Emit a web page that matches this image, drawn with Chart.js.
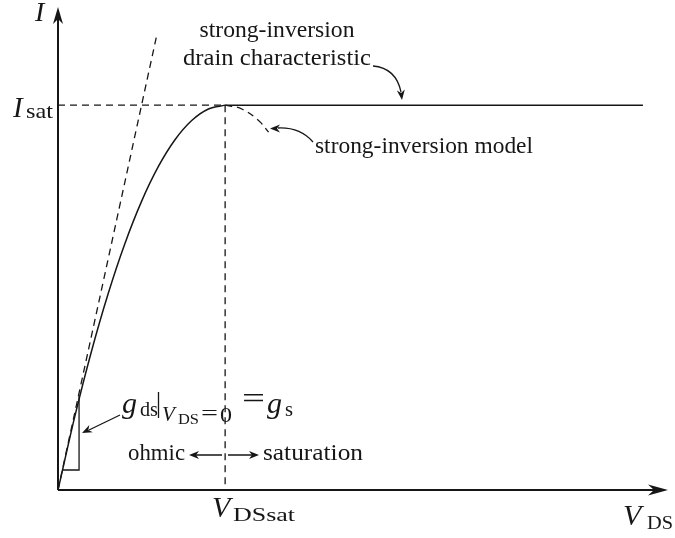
<!DOCTYPE html>
<html>
<head>
<meta charset="utf-8">
<script src="https://cdn.jsdelivr.net/npm/chart.js@4.4.0/dist/chart.umd.min.js"></script>
<style>
  html, body { margin: 0; padding: 0; background: #fff; }
  #wrap { width: 675px; height: 538px; }
</style>
</head>
<body>
<div id="wrap"><canvas id="ivChart" width="675" height="538"></canvas></div>
<script>
// MOSFET drain current vs. V_DS, normalised to I_sat = 1 and V_DSsat = 1

const X_MAX = 3.65;
const Y_MAX = 1.255;

// ohmic region (strong-inversion parabola up to V_DSsat)
const VDS_OHMIC = [0, 0.1, 0.2, 0.3, 0.4, 0.5, 0.6, 0.7, 0.8, 0.9, 1.0];
const I_OHMIC   = [0, 0.19, 0.36, 0.51, 0.64, 0.75, 0.84, 0.91, 0.96, 0.99, 1.0];

// saturation plateau
const VDS_SAT = [1.0, 3.5];
const I_SAT   = [1.0, 1.0];

// parabola continued past V_DSsat (model only)
const VDS_MODEL = [1.0, 1.1, 1.2, 1.26];
const I_MODEL   = [1.0, 0.99, 0.96, 0.93];

// slope at the origin: g_s
const VDS_TANGENT = [0, 0.59];
const I_TANGENT   = [0, 1.18];

// guides to I_sat and V_DSsat
const VDS_ISAT_GUIDE = [0, 1];
const I_ISAT_GUIDE   = [1, 1];
const VDS_VSAT_GUIDE = [1, 1];
const I_VSAT_GUIDE   = [1, 0];

// little slope triangle near the origin
const VDS_SLOPE = [0.026, 0.126, 0.126];
const I_SLOPE   = [0.052, 0.052, 0.245];

const INK = '#161616';
const SERIF = '"Liberation Serif", "DejaVu Serif", serif';

const pts = (xs, ys) => xs.map((x, i) => ({ x, y: ys[i] }));

function line(label, xs, ys, extra) {
  return Object.assign({
    label,
    data: pts(xs, ys),
    showLine: true,
    borderColor: INK,
    borderWidth: 1.5,
    pointRadius: 0,
    fill: false,
  }, extra || {});
}

// ── drawing helpers ──
function arrowHead(ctx, x, y, ang, len, half) {
  ctx.save();
  ctx.translate(x, y);
  ctx.rotate(ang);
  ctx.beginPath();
  ctx.moveTo(0, 0);
  ctx.lineTo(-len, -half);
  ctx.lineTo(-len * 0.7, 0);
  ctx.lineTo(-len, half);
  ctx.closePath();
  ctx.fill();
  ctx.restore();
}

function text(ctx, s, x, y, size, opts) {
  opts = opts || {};
  ctx.save();
  ctx.font = (opts.italic ? 'italic ' : '') + size + 'px ' + SERIF;
  ctx.textBaseline = 'alphabetic';
  const m = ctx.measureText(s).width;
  const w = opts.width || m;
  let left = opts.center ? x - w / 2 : x;
  ctx.translate(left, y);
  ctx.scale(w / m, 1);
  ctx.fillText(s, 0, 0);
  ctx.restore();
}

const decorations = {
  id: 'decorations',
  beforeDatasetsDraw(chart) {
    const { ctx, chartArea: a, scales: { x, y } } = chart;
    const x0 = x.getPixelForValue(0);
    const y0 = y.getPixelForValue(0);
    ctx.save();
    ctx.strokeStyle = INK;
    ctx.fillStyle = INK;
    ctx.lineWidth = 2;
    ctx.beginPath();
    ctx.moveTo(x0, y0);
    ctx.lineTo(a.right - 10, y0);
    ctx.moveTo(x0, y0);
    ctx.lineTo(x0, a.top + 10);
    ctx.stroke();
    arrowHead(ctx, a.right, y0, 0, 20, 5.5);
    arrowHead(ctx, x0, a.top, -Math.PI / 2, 17, 5);
    ctx.restore();
  },
  afterDatasetsDraw(chart) {
    const { ctx } = chart;
    ctx.save();
    ctx.strokeStyle = INK;
    ctx.fillStyle = INK;
    ctx.lineWidth = 1.3;

    // axis labels
    text(ctx, 'I', 35, 21, 28, { italic: true });
    text(ctx, 'I', 13, 117, 29, { italic: true });
    text(ctx, 'sat', 26, 118, 21, { width: 27 });
    text(ctx, 'V', 212, 517, 30, { italic: true });
    text(ctx, 'DSsat', 233, 521, 19, { width: 62 });
    text(ctx, 'V', 623, 525, 30, { italic: true });
    text(ctx, 'DS', 647, 529, 19, { width: 26 });

    // g_ds|V_DS=0 = g_s
    text(ctx, 'g', 122, 413, 30, { italic: true });
    text(ctx, 'ds', 140, 416, 22, { width: 18 });
    ctx.beginPath();
    ctx.moveTo(158.5, 392);
    ctx.lineTo(158.5, 418);
    ctx.stroke();
    text(ctx, 'V', 162, 421, 21, { italic: true });
    text(ctx, 'DS', 178, 424, 14, { width: 21 });
    text(ctx, '=', 201, 420, 20, { width: 17 });
    text(ctx, '0', 220, 422, 20, { width: 12 });
    text(ctx, '=', 242, 408, 30, { width: 23 });
    text(ctx, 'g', 267, 413, 30, { italic: true });
    text(ctx, 's', 285, 416, 22, { width: 8 });

    // captions
    text(ctx, 'strong-inversion', 277, 37, 23, { center: true, width: 155 });
    text(ctx, 'drain characteristic', 277, 65, 23, { center: true, width: 188 });
    text(ctx, 'strong-inversion model', 315, 153, 23, { width: 218 });
    text(ctx, 'ohmic', 128, 460, 23, { width: 57 });
    text(ctx, 'saturation', 263, 460, 23, { width: 100 });

    // pointer to the plateau
    ctx.beginPath();
    ctx.moveTo(373, 66);
    ctx.quadraticCurveTo(396, 68, 401, 92);
    ctx.stroke();
    arrowHead(ctx, 402, 100, Math.PI / 2 - 0.12, 10, 4);

    // pointer to the model curve
    ctx.beginPath();
    ctx.moveTo(313, 142);
    ctx.quadraticCurveTo(300, 127, 278, 128);
    ctx.stroke();
    arrowHead(ctx, 270, 128.5, Math.PI, 10, 4);

    // pointer to the slope triangle
    ctx.beginPath();
    ctx.moveTo(120, 415);
    ctx.lineTo(89, 430);
    ctx.stroke();
    arrowHead(ctx, 82, 433, Math.atan2(18, -38), 10, 4);

    // ohmic <-> saturation
    ctx.beginPath();
    ctx.moveTo(222, 455);
    ctx.lineTo(196, 455);
    ctx.moveTo(228, 455);
    ctx.lineTo(252, 455);
    ctx.stroke();
    arrowHead(ctx, 189, 455, Math.PI, 10, 4);
    arrowHead(ctx, 259, 455, 0, 10, 4);

    ctx.restore();
  },
};

const dashed = { borderWidth: 1.3, borderDash: [7, 5] };

new Chart(document.getElementById('ivChart'), {
  type: 'scatter',
  data: {
    datasets: [
      line('ohmic', VDS_OHMIC, I_OHMIC, { cubicInterpolationMode: 'monotone' }),
      line('saturation', VDS_SAT, I_SAT),
      line('strong-inversion model', VDS_MODEL, I_MODEL, Object.assign({ tension: 0.4 }, dashed)),
      line('g_s tangent', VDS_TANGENT, I_TANGENT, dashed),
      line('I_sat guide', VDS_ISAT_GUIDE, I_ISAT_GUIDE, dashed),
      line('V_DSsat guide', VDS_VSAT_GUIDE, I_VSAT_GUIDE, dashed),
      line('slope triangle', VDS_SLOPE, I_SLOPE, { borderWidth: 1.3 }),
    ],
  },
  options: {
    responsive: false,
    animation: false,
    devicePixelRatio: 1,
    layout: { padding: { left: 58, right: 7, top: 7, bottom: 48 } },
    plugins: {
      legend: { display: false },
      tooltip: { enabled: false },
    },
    scales: {
      x: { type: 'linear', min: 0, max: X_MAX, display: false },
      y: { type: 'linear', min: 0, max: Y_MAX, display: false },
    },
  },
  plugins: [decorations],
});
</script>
</body>
</html>
